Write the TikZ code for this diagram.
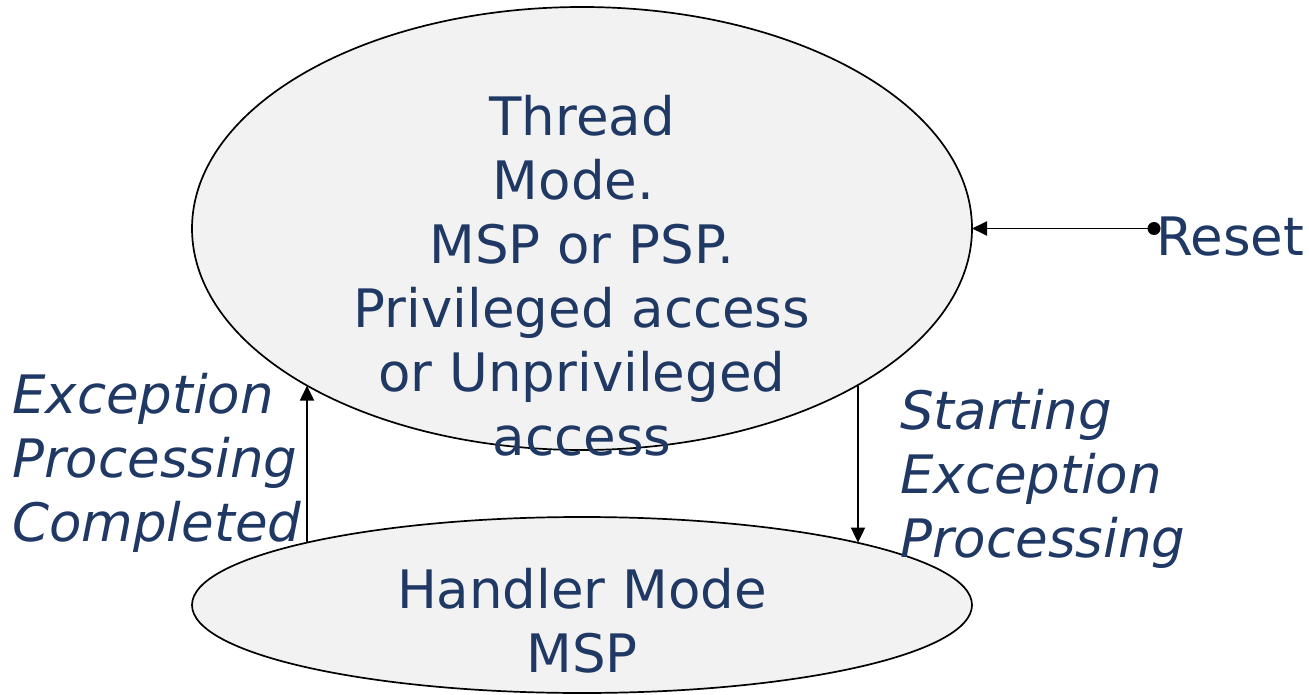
\documentclass[tikz,border=0pt]{standalone}
\usepackage{fontspec}
\setmainfont{DejaVu Sans}
\usetikzlibrary{arrows.meta}
\definecolor{txt}{HTML}{1F3864}
\definecolor{fillc}{HTML}{F2F2F2}
\tikzset{
  state/.style={draw=black, line width=1.7pt, fill=fillc},
  lbl/.style={text=txt, font=\fontsize{53}{64}\selectfont, inner sep=0pt, anchor=base},
  conn/.style={line width=1.9pt, -{Triangle[length=15pt,width=14pt]}}
}
\begin{document}
\begin{tikzpicture}[x=1pt,y=-1pt]
\useasboundingbox (0,0) rectangle (1309,695);
\draw[state] (582,228.5) ellipse [x radius=390, y radius=221.5];
\draw[state] (582,605) ellipse [x radius=390, y radius=88];
\node[lbl, align=center] (thread) at (582,455) {Thread\\\hbox{Mode.\ }\\MSP or PSP.\\Privileged access\\or Unprivileged\\access};
\node[lbl, align=center] (handler) at (582,672) {Handler Mode\\MSP};
\node[lbl, anchor=base west, font=\fontsize{53}{64}\selectfont\itshape, align=left] (done) at (12,541) {Exception\\Processing\\Completed};
\node[lbl, anchor=base west, font=\fontsize{53}{64}\selectfont\itshape, align=left] (start) at (900,557) {Starting\\Exception\\Processing};
\node[lbl, anchor=base west] (reset) at (1156,255) {Reset};
\coordinate (rdot) at (1154,228.5);
\coordinate (tr) at (972,228.5);
\coordinate (lb) at (307,542.6);
\coordinate (lt) at (307,385.6);
\coordinate (rt) at (858,385.6);
\coordinate (rb) at (858,542.6);
\fill (rdot) circle (6.5pt);
\draw[conn] (rdot) -- (tr);
\draw[conn] (lb) -- (lt);
\draw[conn] (rt) -- (rb);
\end{tikzpicture}
\end{document}
